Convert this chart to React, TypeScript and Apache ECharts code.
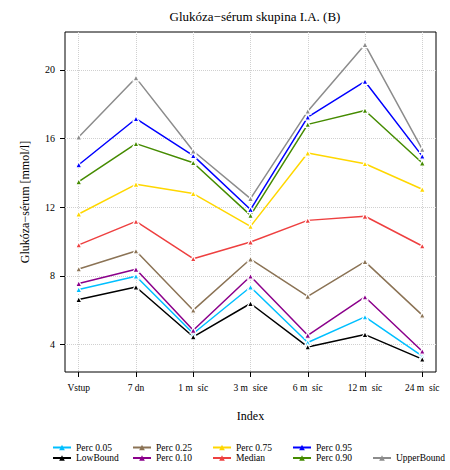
import React, { useEffect, useRef } from "react";
import * as echarts from "echarts";

const categories = ["Vstup", "7 dn", "1 m  síc", "3 m  síce", "6 m  síc", "12 m  síc", "24 m  síc"];
const yTicks = [4, 8, 12, 16, 20];

const perc05 = [7.2, 7.98, 4.64, 7.35, 4.12, 5.61, 3.32];
const lowBound = [6.62, 7.35, 4.45, 6.39, 3.86, 4.58, 3.15];
const perc25 = [8.4, 9.45, 6.0, 8.98, 6.81, 8.83, 5.71];
const perc10 = [7.55, 8.38, 4.83, 7.98, 4.54, 6.77, 3.61];
const perc75 = [11.6, 13.33, 12.79, 10.88, 15.15, 14.53, 13.04];
const median = [9.8, 11.17, 9.0, 9.97, 11.23, 11.47, 9.74];
const perc95 = [14.47, 17.15, 15.0, 11.86, 17.24, 19.32, 14.97];
const perc90 = [13.48, 15.7, 14.59, 11.52, 16.82, 17.63, 14.57];
const upperBound = [16.08, 19.53, 15.27, 12.5, 17.59, 21.47, 15.36];

const seriesDefs = [
  { name: "Perc 0.05", data: perc05, color: "#00BFFF" },
  { name: "LowBound", data: lowBound, color: "#000000" },
  { name: "Perc 0.25", data: perc25, color: "#8B7355" },
  { name: "Perc 0.10", data: perc10, color: "#8B008B" },
  { name: "Perc 0.75", data: perc75, color: "#FFD700" },
  { name: "Median", data: median, color: "#EE4040" },
  { name: "Perc 0.95", data: perc95, color: "#0000FF" },
  { name: "Perc 0.90", data: perc90, color: "#458B00" },
  { name: "UpperBound", data: upperBound, color: "#8C8C8C" },
];

const legendColumns = [
  ["Perc 0.05", "LowBound"],
  ["Perc 0.25", "Perc 0.10"],
  ["Perc 0.75", "Median"],
  ["Perc 0.95", "Perc 0.90"],
  ["UpperBound"],
];

const FONT = "'Liberation Serif', 'DejaVu Serif', serif";

export default function App() {
  const ref = useRef<HTMLDivElement>(null);
  useEffect(() => {
    if (!ref.current) return;
    const chart = echarts.init(ref.current, null, { renderer: "svg" });
    const xVals = categories.map((_, i) => i + 1);
    const option: any = {
      animation: false,
      backgroundColor: "#ffffff",
      textStyle: { fontFamily: FONT },
      title: {
        text: "Glukóza−sérum skupina I.A. (B)",
        left: 250,
        textAlign: "center",
        top: 5,
        textStyle: { fontFamily: FONT, fontSize: 13, fontWeight: "normal", color: "#000" },
      },
      grid: {
        left: 65,
        top: 32,
        right: 14,
        bottom: 98,
        show: true,
        borderColor: "#000",
        borderWidth: 1,
        backgroundColor: "transparent",
      },
      xAxis: {
        type: "value",
        min: 0.76,
        max: 7.24,
        name: "Index",
        nameLocation: "middle",
        nameGap: 38,
        nameTextStyle: { fontFamily: FONT, fontSize: 12, color: "#000" },
        axisLine: { show: false },
        axisTick: {
          show: true,
          inside: false,
          length: 5,
          customValues: xVals,
          lineStyle: { color: "#000" },
        },
        axisLabel: {
          customValues: xVals,
          margin: 11,
          fontFamily: FONT,
          fontSize: 9.5,
          color: "#000",
          formatter: (v: number) => categories[Math.round(v) - 1] ?? "",
        },
        splitLine: {
          show: true,
          lineStyle: { color: "#D0D0D0", type: "dotted", width: 1 },
        },
      },
      yAxis: {
        type: "value",
        min: 2.4,
        max: 22.2,
        name: "Glukóza−sérum [mmol/l]",
        nameLocation: "middle",
        nameGap: 34,
        nameTextStyle: { fontFamily: FONT, fontSize: 12, color: "#000" },
        axisLine: { show: false },
        axisTick: {
          show: true,
          length: 5,
          customValues: yTicks,
          lineStyle: { color: "#000" },
        },
        axisLabel: {
          customValues: yTicks,
          margin: 10,
          fontFamily: FONT,
          fontSize: 10,
          color: "#000",
        },
        splitLine: {
          show: true,
          lineStyle: { color: "#D0D0D0", type: "dotted", width: 1 },
        },
      },
      legend: legendColumns.map((names, ci) => ({
        orient: "vertical",
        left: 52 + ci * 80,
        top: names.length === 1 ? 453 : 442.5,
        width: 90,
        height: 30,
        padding: 0,
        itemWidth: 18,
        itemHeight: 7,
        itemGap: 0.5,
        data: names,
        itemStyle: { borderWidth: 0 },
        textStyle: { fontFamily: FONT, fontSize: 9.5, lineHeight: 10, color: "#000" },
      })),
      series: seriesDefs.map((s) => ({
        name: s.name,
        type: "line",
        data: s.data.map((v, i) => [xVals[i], v]),
        symbol: "triangle",
        symbolSize: 6,
        showSymbol: true,
        color: s.color,
        lineStyle: { color: s.color, width: 1.5 },
        itemStyle: { color: s.color, borderColor: "#ffffff", borderWidth: 1.2 },
      })),
    };
    chart.setOption(option);
    return () => chart.dispose();
  }, []);
  return (
    <div
      ref={ref}
      style={{ position: "absolute", left: 0, top: 0, width: 450, height: 470 }}
    />
  );
}
